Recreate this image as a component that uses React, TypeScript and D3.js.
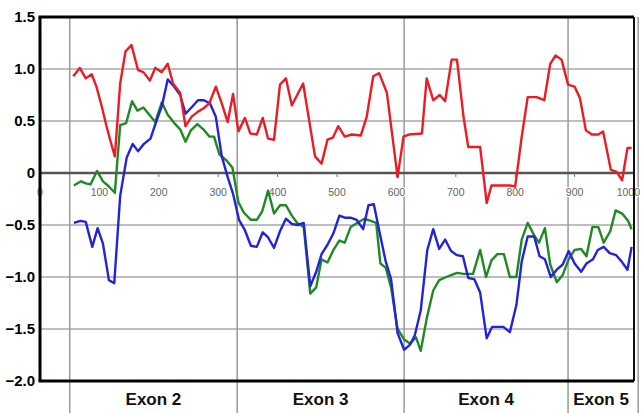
import * as d3 from 'd3'

// [position, score] pairs
const redSeries: [number, number][] = [
  [56, 0.93], [67, 1.01], [77, 0.91], [87, 0.95], [95, 0.83], [104, 0.64], [112, 0.45], [119, 0.3],
  [126, 0.16], [135, 0.86], [144, 1.17], [154, 1.23], [165, 0.99], [174, 0.97], [185, 0.89], [194, 1.01],
  [205, 0.97], [215, 1.05], [224, 0.86], [236, 0.77], [245, 0.45], [255, 0.54], [266, 0.59], [275, 0.62],
  [285, 0.67], [296, 0.83], [306, 0.67], [316, 0.49], [325, 0.76], [334, 0.4], [345, 0.53], [354, 0.38],
  [365, 0.37], [375, 0.53], [384, 0.33], [394, 0.32], [404, 0.85], [414, 0.91], [424, 0.65], [433, 0.75],
  [443, 0.86], [453, 0.51], [463, 0.16], [474, 0.09], [484, 0.32], [493, 0.34], [502, 0.45], [513, 0.35],
  [525, 0.37], [540, 0.36], [550, 0.54], [561, 0.93], [571, 0.96], [584, 0.77], [592, 0.41], [602, -0.04],
  [612, 0.35], [621, 0.37], [643, 0.38], [651, 0.91], [662, 0.7], [673, 0.75], [682, 0.69], [693, 1.09],
  [702, 1.09], [713, 0.54], [721, 0.25], [741, 0.25], [752, -0.29], [760, -0.12], [791, -0.12], [800, -0.13],
  [811, 0.35], [821, 0.73], [836, 0.73], [849, 0.7], [859, 1.05], [868, 1.13], [878, 1.09], [889, 0.85],
  [900, 0.83], [909, 0.72], [919, 0.41], [929, 0.37], [940, 0.37], [948, 0.4], [961, 0.03], [971, 0.01],
  [980, -0.07], [989, 0.24], [996, 0.24],
]

const greenSeries: [number, number][] = [
  [57, -0.12], [69, -0.08], [77, -0.1], [85, -0.11], [96, 0.02], [106, -0.08], [116, -0.13], [126, -0.19],
  [135, 0.46], [145, 0.48], [155, 0.69], [164, 0.6], [174, 0.63], [184, 0.56], [194, 0.49], [205, 0.68],
  [215, 0.56], [226, 0.48], [236, 0.42], [245, 0.3], [254, 0.41], [265, 0.47], [275, 0.42], [285, 0.35],
  [293, 0.35], [302, 0.18], [314, 0.12], [324, 0.05], [334, -0.28], [343, -0.38], [355, -0.45], [365, -0.45],
  [374, -0.37], [384, -0.17], [394, -0.39], [404, -0.31], [414, -0.31], [424, -0.41], [433, -0.48], [444, -0.52],
  [455, -1.16], [465, -1.1], [474, -0.83], [484, -0.86], [494, -0.74], [504, -0.65], [513, -0.67], [523, -0.52],
  [534, -0.48], [546, -0.44], [557, -0.46], [566, -0.48], [573, -0.87], [582, -0.91], [591, -1.1], [602, -1.5],
  [613, -1.6], [623, -1.64], [633, -1.58], [641, -1.71], [651, -1.4], [662, -1.13], [672, -1.03], [684, -1.0],
  [693, -0.98], [702, -0.96], [713, -0.97], [729, -0.97], [741, -0.74], [751, -1.0], [760, -0.84], [770, -0.78],
  [781, -0.78], [791, -1.0], [802, -1.0], [811, -0.64], [821, -0.48], [832, -0.6], [840, -0.67], [850, -0.53],
  [859, -0.88], [870, -1.05], [880, -0.98], [890, -0.83], [900, -0.74], [911, -0.73], [920, -0.8], [930, -0.52],
  [940, -0.52], [949, -0.67], [960, -0.56], [969, -0.36], [980, -0.39], [990, -0.46], [996, -0.54],
]

const blueSeries: [number, number][] = [
  [57, -0.48], [68, -0.46], [77, -0.47], [88, -0.71], [97, -0.53], [106, -0.68], [116, -1.03], [125, -1.06],
  [135, -0.22], [146, 0.15], [156, 0.28], [165, 0.21], [175, 0.28], [186, 0.33], [196, 0.5], [205, 0.64],
  [215, 0.9], [226, 0.83], [236, 0.75], [245, 0.57], [255, 0.63], [266, 0.7], [276, 0.7], [286, 0.67],
  [296, 0.54], [306, 0.16], [316, -0.04], [325, -0.2], [335, -0.45], [345, -0.55], [355, -0.7], [365, -0.71],
  [375, -0.57], [384, -0.62], [394, -0.72], [404, -0.56], [414, -0.44], [424, -0.49], [434, -0.5], [444, -0.48],
  [455, -1.09], [465, -0.95], [474, -0.78], [484, -0.69], [494, -0.58], [504, -0.41], [513, -0.43], [523, -0.43],
  [533, -0.45], [544, -0.54], [553, -0.31], [562, -0.3], [572, -0.58], [582, -0.85], [591, -1.02], [602, -1.54],
  [613, -1.7], [623, -1.65], [631, -1.56], [641, -1.32], [652, -0.74], [662, -0.54], [672, -0.73], [682, -0.64],
  [692, -0.75], [702, -0.79], [712, -0.8], [721, -1.01], [731, -1.02], [741, -1.15], [752, -1.59], [761, -1.48],
  [780, -1.48], [791, -1.53], [802, -1.27], [811, -0.85], [821, -0.61], [832, -0.61], [841, -0.8], [850, -0.83],
  [860, -1.0], [870, -0.93], [880, -0.88], [890, -0.75], [900, -0.87], [911, -0.95], [920, -0.87], [931, -0.83],
  [939, -0.74], [949, -0.71], [959, -0.77], [970, -0.79], [979, -0.85], [989, -0.93], [996, -0.71],
]

const yTicks = [1.5, 1.0, 0.5, 0, -0.5, -1.0, -1.5, -2.0]
const xTicks = [0, 100, 200, 300, 400, 500, 600, 700, 800, 900, 1000]
const exonBounds = [50, 332, 613, 889, 1007]
const exonLabels = ['Exon 2', 'Exon 3', 'Exon 4', 'Exon 5']

const W = 643
const H = 413
const margin = { top: 17, right: 9, bottom: 32, left: 40 }
const font = '"Liberation Sans", Arial, Helvetica, sans-serif'

export default function App() {
  const x = d3.scaleLinear().domain([0, 1000]).range([margin.left, W - margin.right])
  const y = d3.scaleLinear().domain([-2, 1.5]).range([H - margin.bottom, margin.top])

  const line = d3
    .line<[number, number]>()
    .x((d) => x(d[0]))
    .y((d) => y(d[1]))

  const x0 = x(0)
  const x1 = x(1000)
  const yTop = y(1.5)
  const yBot = y(-2)

  const series = [
    { data: greenSeries, color: '#1f8a24' },
    { data: blueSeries, color: '#2323dc' },
    { data: redSeries, color: '#ec1c24' },
  ]

  const fmt = (v: number) => (v === 0 ? '0' : d3.format('.1f')(v))
  const lastTick = xTicks[xTicks.length - 1]

  return (
    <svg
      width={W}
      height={H}
      style={{ position: 'absolute', left: 0, top: 0, background: '#fff' }}
      fontFamily={font}
    >
      {/* horizontal grid */}
      {yTicks
        .filter((t) => t !== 0 && t !== 1.5 && t !== -2)
        .map((t) => (
          <line key={t} x1={x0} x2={x1} y1={y(t)} y2={y(t)} stroke="#a8a8a8" strokeWidth={1.5} />
        ))}

      {/* exon boundaries */}
      {exonBounds.map((b) => (
        <line key={b} x1={x(b)} x2={x(b)} y1={yTop} y2={H} stroke="#9a9a9a" strokeWidth={1.5} />
      ))}

      {/* zero line */}
      <line x1={x0} x2={x1} y1={y(0)} y2={y(0)} stroke="#555" strokeWidth={2.5} />
      {xTicks.map((t) => (
        <g key={t}>
          <line x1={x(t)} x2={x(t)} y1={y(0)} y2={y(0) + 4} stroke="#777" strokeWidth={1} />
          <text
            x={t === lastTick ? x(t) + 6 : x(t)}
            y={y(0) + 23}
            textAnchor={t === lastTick ? 'end' : 'middle'}
            fontSize={10.5}
            fill="#666"
            stroke="#fff"
            strokeWidth={2}
            paintOrder="stroke"
          >
            {t}
          </text>
        </g>
      ))}

      {/* series */}
      {series.map((s, i) => (
        <path
          key={i}
          d={line(s.data) ?? ''}
          fill="none"
          stroke={s.color}
          strokeWidth={2.4}
          strokeLinejoin="round"
        />
      ))}

      {/* frame */}
      <line x1={x1} x2={x1} y1={yTop} y2={yBot} stroke="#111" strokeWidth={2} />
      <line x1={x0 - 1.5} x2={x1} y1={yTop} y2={yTop} stroke="#000" strokeWidth={3} />
      <line x1={x0 - 1.5} x2={x1} y1={yBot} y2={yBot} stroke="#000" strokeWidth={3} />
      <line x1={x0} x2={x0} y1={yTop} y2={yBot} stroke="#000" strokeWidth={3} />

      {/* y labels */}
      {yTicks.map((t) => (
        <text
          key={t}
          x={x0 - 5}
          y={y(t)}
          dy="0.36em"
          textAnchor="end"
          fontSize={15}
          fontWeight={700}
          fill="#000"
        >
          {fmt(t)}
        </text>
      ))}

      {/* exon labels */}
      {exonLabels.map((lab, i) => (
        <text
          key={lab}
          x={(x(exonBounds[i]) + x(Math.min(exonBounds[i + 1], 1000))) / 2}
          y={H - 8}
          textAnchor="middle"
          fontSize={17}
          fontWeight={700}
          fill="#111"
        >
          {lab}
        </text>
      ))}
    </svg>
  )
}
